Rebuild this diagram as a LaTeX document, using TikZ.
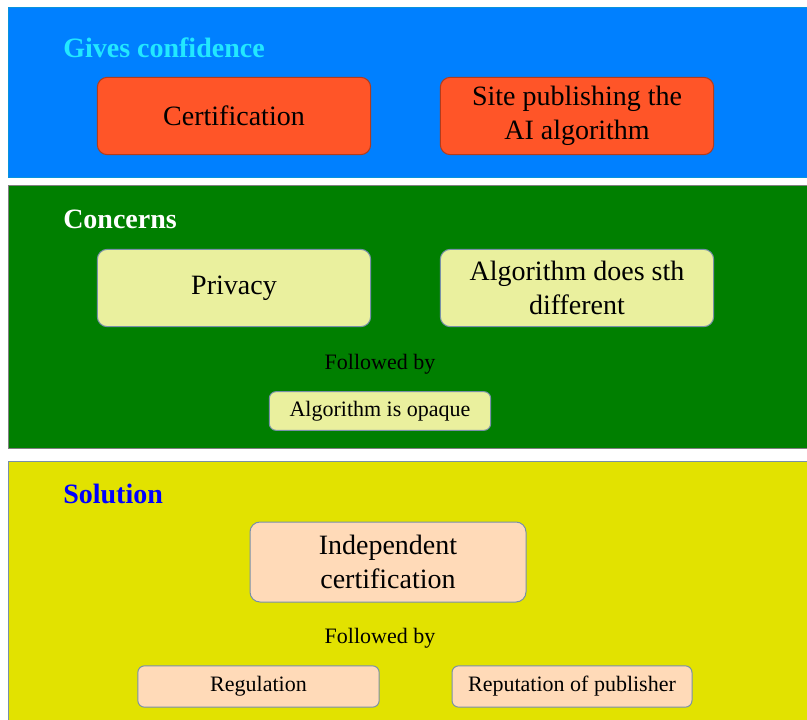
\documentclass[tikz,border=0pt]{standalone}
\usepackage{fontspec}
\setmainfont{Liberation Serif}
\usetikzlibrary{positioning}

\definecolor{bandblue}{HTML}{0080FF}
\definecolor{bandgreen}{HTML}{007F00}
\definecolor{bandyellow}{HTML}{E2E200}
\definecolor{boxorange}{HTML}{FF5528}
\definecolor{boxpale}{HTML}{EAF09E}
\definecolor{boxpeach}{HTML}{FFDAB8}
\definecolor{titlecyan}{HTML}{22E8FF}
\definecolor{edgegray}{HTML}{7890A8}

\begin{document}
\begin{tikzpicture}[x=0.75pt,y=-0.75pt]
\tikzset{
  band/.style={draw=edgegray,line width=0.75pt},
  bandtitle/.style={anchor=west,inner sep=0pt,font=\fontsize{21}{25}\selectfont\bfseries},
  bigbox/.style={rectangle,rounded corners=7.5pt,draw=edgegray,line width=0.75pt,minimum width=205pt,minimum height=58pt,align=center,inner sep=2pt,font=\fontsize{21}{25.5}\selectfont},
  smallbox/.style={rectangle,rounded corners=5pt,draw=edgegray,line width=0.75pt,minimum height=29pt,align=center,inner sep=2pt,font=\fontsize{16.5}{20}\selectfont},
  note/.style={inner sep=0pt,font=\fontsize{16.5}{20}\selectfont}
}
\useasboundingbox (0,0) rectangle (807,720);
\fill[white] (0,0) rectangle (807,720);
% bands
\draw[band,draw=cyan!60!bandblue,fill=bandblue] (8,8) rectangle (810,178);
\draw[band,draw=gray,fill=bandgreen] (8,186) rectangle (810,448);
\draw[band,fill=bandyellow] (8,461) rectangle (810,725);
% titles
\node[bandtitle,text=titlecyan] (t_give) at (63,48) {Gives confidence};
\node[bandtitle,text=white] (t_conc) at (63,219) {Concerns};
\node[bandtitle,text=blue] (t_sol) at (63,494) {Solution};
% gives confidence
\node[bigbox,fill=boxorange,draw=boxorange!70!black] (b_cert) at (234,116) {Certification};
\node[bigbox,fill=boxorange,draw=boxorange!70!black] (b_site) at (577,116) {Site publishing the\\AI algorithm};
% concerns
\node[bigbox,fill=boxpale] (b_priv) at (234,288) {Privacy};
\node[bigbox,fill=boxpale] (b_diff) at (577,288) {Algorithm does sth\\different};
\node[note] (n_foll_a) at (380,364) {Followed by};
\node[smallbox,fill=boxpale,minimum width=166pt] (b_opaq) at (380,411) {Algorithm is opaque};
% solution
\node[bigbox,fill=boxpeach,minimum width=207pt,minimum height=60pt] (b_indep) at (388,562) {Independent\\certification};
\node[note] (n_foll_b) at (380,638) {Followed by};
\node[smallbox,fill=boxpeach,minimum width=181pt,minimum height=31pt] (b_reg) at (258.5,686.5) {Regulation};
\node[smallbox,fill=boxpeach,minimum width=180pt,minimum height=31pt] (b_rep) at (572,686.5) {Reputation of publisher};
\end{tikzpicture}
\end{document}
